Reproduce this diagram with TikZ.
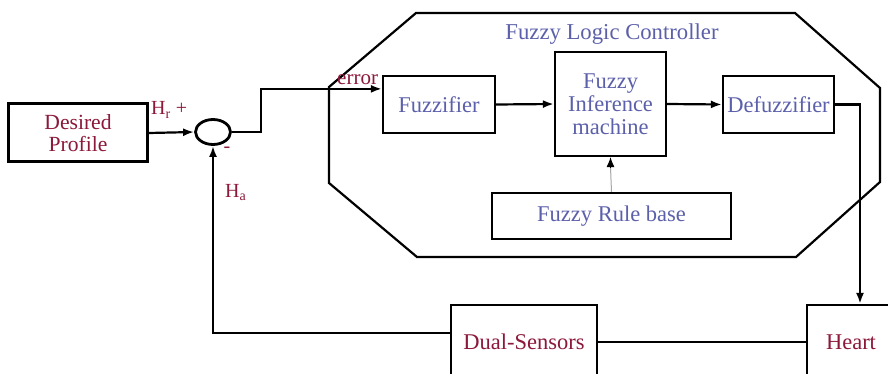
\documentclass[tikz,border=0pt]{standalone}
\usepackage{fontspec}
\setmainfont{Liberation Serif}
\usetikzlibrary{arrows.meta,shapes.geometric}
\definecolor{flcblue}{RGB}{92,96,170}
\definecolor{sigred}{RGB}{140,24,58}
\tikzset{
  blk/.style={draw=black, line width=2.2pt, rectangle, inner sep=0pt, align=center,
    font=\fontsize{22.5}{23}\selectfont},
  ctrlblk/.style={blk, text=flcblue},
  plantblk/.style={blk, text=sigred},
  flow/.style={line width=2.2pt, -{Latex[length=11pt,width=8pt]}},
  link/.style={line width=2.6pt},
  sig/.style={text=sigred, font=\fontsize{20}{22}\selectfont, inner sep=0pt},
}
\begin{document}
\begin{tikzpicture}[x=1pt,y=-1pt]
  \useasboundingbox (0,0) rectangle (888,374);
  \fill[white] (0,0) rectangle (888,374);
  \clip (0,0) rectangle (888,374);

  % controller enclosure
  \draw[line width=2.2pt, line join=miter]
    (416,13) -- (795,13) -- (880,88) -- (880,182) -- (796,257)
    -- (417,257) -- (329,183) -- (329,87) -- cycle;
  \node[text=flcblue, font=\fontsize{22.7}{24}\selectfont] (title) at (612,34) {Fuzzy Logic Controller};

  % blocks
  \node[plantblk, line width=3pt, minimum width=139pt, minimum height=58pt,
        font=\fontsize{21.6}{22}\selectfont] (desired) at (78,133) {Desired\\Profile};
  \node[draw, ellipse, line width=2.8pt, minimum width=35pt, minimum height=25pt, inner sep=0pt] (sum) at (213,132) {};
  \node[ctrlblk, minimum width=112pt, minimum height=57pt] (fuzz) at (439,104.5) {Fuzzifier};
  \node[ctrlblk, minimum width=111pt, minimum height=104pt] (fim) at (610.5,104) {Fuzzy\\Inference\\machine};
  \node[ctrlblk, minimum width=111pt, minimum height=57pt] (defuzz) at (778.5,104.5) {Defuzzifier};
  \node[ctrlblk, minimum width=239pt, minimum height=46pt] (rules) at (611.5,216) {Fuzzy Rule base};
  \node[plantblk, minimum width=146pt, minimum height=74pt] (dual) at (524,342) {Dual-Sensors};
  \node[plantblk, minimum width=88pt, minimum height=74pt] (heart) at (851,342) {Heart};

  % signal paths
  \draw[flow] (desired.east) -- (sum.west);
  \draw[flow] (sum.east) -- ++(29,0) |- ([yshift=-14pt]fuzz.north west);
  \draw[flow] (fuzz.east) -- (fim.west);
  \draw[flow] (fim.east) -- (defuzz.west);
  \draw[line width=1pt, gray!70] (rules.north) -- ([yshift=-10pt]fim.south);
  \draw[flow, line width=1pt, -{Latex[length=10pt,width=8pt]}] ([yshift=-10pt]fim.south) -- (fim.south);
  \draw[flow] (defuzz.east) -| ([xshift=9pt]heart.north);
  \draw[link] (heart.west) -- (dual.east);
  \draw[flow, line width=2.6pt] ([yshift=9pt]dual.west) -| (sum.south);

  % signal labels
  \node[sig, anchor=base west] (hr) at (151,115) {H\textsubscript{r} +};
  \node[sig, anchor=center] (minus) at (227,150) {-};
  \node[sig, anchor=base west] (ha) at (225,197) {H\textsubscript{a}};
  \node[sig, anchor=base west, font=\fontsize{21}{22}\selectfont] (err) at (337,85) {error};
\end{tikzpicture}
\end{document}
